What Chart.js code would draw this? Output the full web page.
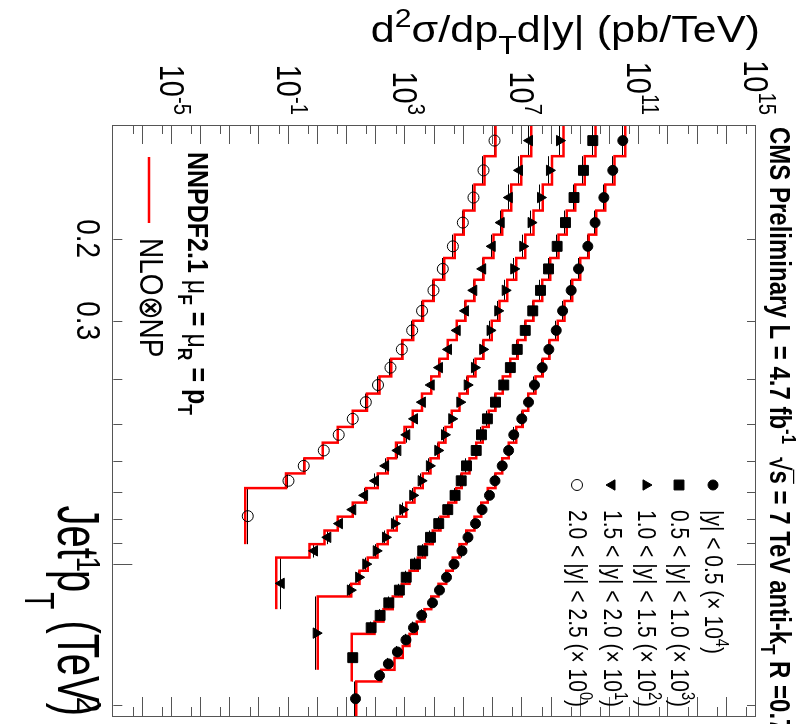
<!DOCTYPE html>
<html lang="en">
<head>
<meta charset="utf-8">
<title>Inclusive jet cross section</title>
<script src="https://cdn.jsdelivr.net/npm/chart.js@4.4.1/dist/chart.umd.min.js"></script>
<style>
  html, body { margin: 0; padding: 0; background: #fff; overflow: hidden; }
  /* the plot is drawn upright and then turned a quarter clockwise */
  #turn { position: absolute; left: 0; top: 0; width: 724px; height: 798px;
          transform-origin: 0 0; transform: translate(798px, 0) rotate(90deg); }
</style>
</head>
<body>
<div id="turn"><canvas id="cv" width="724" height="798"></canvas></div>
<script>
// jet pT bin edges, TeV
const binEdges = [0.114, 0.133, 0.153, 0.174, 0.196, 0.220, 0.245, 0.272, 0.300, 0.330, 0.362,
  0.395, 0.430, 0.468, 0.507, 0.548, 0.592, 0.638, 0.686, 0.737, 0.790, 0.846, 0.905, 0.967,
  1.032, 1.101, 1.172, 1.248, 1.327, 1.410, 1.497, 1.588, 1.684, 1.784];
// upper edge of the last (wide) bin of each rapidity slice
const lastEdges = [2.116, 1.784, 1.684, 1.248, 0.905];

const sliceLabels = ['|y| < 0.5', '0.5 < |y| < 1.0', '1.0 < |y| < 1.5', '1.5 < |y| < 2.0', '2.0 < |y| < 2.5'];
const sliceScale = [4, 3, 2, 1, 0];

// data, pb/TeV (already multiplied by the factor in the legend)
const data0 = [2.75e10, 1.25e10, 6.2e9, 3.1e9, 1.75e9, 8.4e8, 4.7e8, 2.4e8, 1.45e8, 8.1e7, 4.8e7, 2.6e7,
  1.63e7, 9.6e6, 5.1e6, 3.4e6, 2.05e6, 1.16e6, 7.5e5, 4.2e5, 2.5e5, 1.38e5, 8.6e4, 4.6e4, 2.54e4,
  1.46e4, 8.4e3, 3.6e3, 1.88e3, 1.04e3, 5.3e2, 2.6e2, 1.3e2, 19.5];
const data1 = [2.59e9, 1.24e9, 5.9e8, 3.0e8, 1.56e8, 7.9e7, 4.2e7, 2.28e7, 1.26e7, 6.7e6, 3.9e6, 2.32e6,
  1.21e6, 6.4e5, 4.0e5, 2.64e5, 1.23e5, 8.1e4, 5.0e4, 2.81e4, 1.38e4, 7.2e3, 3.9e3, 2.2e3, 1.06e3,
  6.2e2, 2.7e2, 1.36e2, 67, 15.7];
const data2 = [1.88e8, 8.5e7, 4.2e7, 2.0e7, 1.04e7, 5.1e6, 2.6e6, 1.45e6, 7.9e5, 4.4e5, 2.3e5, 1.3e5,
  7.3e4, 3.85e4, 2.17e4, 1.28e4, 6.6e3, 3.45e3, 1.78e3, 8.1e2, 4.2e2, 2.07e2, 1.0e2, 44, 25, 13, 0.88];
const data3 = [1.76e7, 8.0e6, 3.6e6, 1.89e6, 9.3e5, 4.4e5, 2.18e5, 1.13e5, 5.9e4, 2.97e4, 1.46e4, 7.6e3,
  3.8e3, 2.04e3, 1.11e3, 5.5e2, 2.1e2, 94, 40, 15.7, 5.5, 2.2, 0.77, 0.056];
const data4 = [1.12e6, 4.7e5, 2.13e5, 9.2e4, 4.2e4, 1.9e4, 9.1e3, 3.7e3, 1.7e3, 7.5e2, 3.07e2, 1.15e2,
  44, 15.7, 5.2, 1.6, 0.33, 0.099, 0.004];

// NLO x NP prediction, same bins
const theo0 = [3.33e10, 1.43e10, 6.9e9, 3.38e9, 1.89e9, 9.6e8, 5.1e8, 2.78e8, 1.64e8, 8.5e7, 5.0e7, 2.83e7,
  1.6e7, 1.04e7, 6.2e6, 3.44e6, 2.05e6, 1.21e6, 6.6e5, 3.9e5, 2.3e5, 1.2e5, 7.1e4, 4.2e4, 2.48e4,
  1.35e4, 7.6e3, 4.5e3, 2.44e3, 1.37e3, 8.1e2, 4.2e2, 1.48e2, 20.6];
const theo1 = [3.2e9, 1.38e9, 6.5e8, 3.33e8, 1.73e8, 9.0e7, 4.8e7, 2.41e7, 1.28e7, 7.0e6, 3.85e6, 2.15e6,
  1.21e6, 7.1e5, 4.4e5, 2.64e5, 1.55e5, 8.5e4, 5.45e4, 2.97e4, 1.58e4, 8.6e3, 4.7e3, 2.64e3, 1.37e3,
  7.5e2, 3.7e2, 1.77e2, 87, 14.5];
const theo2 = [2.57e8, 1.05e8, 5.0e7, 2.41e7, 1.26e7, 6.2e6, 3.04e6, 1.66e6, 9.0e5, 4.7e5, 2.5e5, 1.36e5,
  7.1e4, 3.85e4, 2.34e4, 1.38e4, 7.2e3, 3.9e3, 2.04e3, 1.06e3, 5.0e2, 2.48e2, 1.1e2, 51, 26.7, 13.9, 1.0];
const theo3 = [2.01e7, 9.2e6, 4.16e6, 2.05e6, 1.03e6, 4.7e5, 2.3e5, 1.13e5, 5.7e4, 2.81e4, 1.46e4, 7.6e3,
  3.7e3, 1.78e3, 9.3e2, 4.8e2, 2.48e2, 1.13e2, 45, 15.7, 4.8, 1.7, 0.52, 0.0375];
const theo4 = [1.21e6, 5.1e5, 2.3e5, 9.9e4, 4.9e4, 2.12e4, 9.3e3, 4.0e3, 1.84e3, 7.9e2, 3.24e2, 1.29e2,
  48, 15.7, 4.8, 1.48, 0.35, 0.082, 0.0033];

// axis ticks
const xLabelTicks = [0.2, 0.3, 1, 2];
const xMinorTicks = [0.2, 0.3, 0.4, 0.5, 0.6, 0.7, 0.8, 0.9, 2];
const xMajorTicks = [1];
const yLabelExps = [-5, -1, 3, 7, 11, 15];

const allData = [data0, data1, data2, data3, data4];
const allTheo = [theo0, theo1, theo2, theo3, theo4];
const markers = [
  { style: 'circle', rot: 0, r: 5, fill: '#000' },
  { style: 'rect', rot: 0, r: 7, fill: '#000' },
  { style: 'triangle', rot: 0, r: 6, fill: '#000' },
  { style: 'triangle', rot: 180, r: 6, fill: '#000' },
  { style: 'circle', rot: 0, r: 5.5, fill: 'rgba(0,0,0,0)' }
];

const FONT = '"Liberation Sans", Arial, Helvetica, sans-serif';
const SY = 1.2; // glyphs in the original are drawn taller than wide

const datasets = [];
const binsOf = [];
allData.forEach((vals, k) => {
  const e = binEdges.slice(0, vals.length).concat([lastEdges[k]]);
  binsOf.push(e);
  const th = allTheo[k];
  const steps = th.map((v, i) => ({ x: e[i], y: v }));
  steps.push({ x: e[e.length - 1], y: th[th.length - 1] });
  datasets.push({
    type: 'line', data: steps, stepped: true, borderColor: '#ff0000', borderWidth: 2.5,
    pointRadius: 0, fill: false, order: 2
  });
  const m = markers[k];
  datasets.push({
    type: 'line', showLine: false,
    data: vals.map((v, i) => ({ x: Math.sqrt(e[i] * e[i + 1]), y: v })),
    pointStyle: m.style, rotation: m.rot, pointRadius: m.r,
    pointBackgroundColor: m.fill, pointBorderColor: '#000', pointBorderWidth: 1, order: 1
  });
});

// text with sup/sub parts: [text, mode(1 sup, -1 sub, 2 overline), bold]
function drawRich(c, parts, x, y, size, align, rot, sy, subDrop) {
  sy = sy || SY;
  subDrop = subDrop || 0.32;
  c.save();
  c.translate(x, y);
  c.scale(1, sy);
  if (rot) c.rotate(-Math.PI / 2);
  let w = 0;
  const segs = parts.map(([t, m, b]) => {
    const s = (m === 1 || m === -1) ? size * 0.7 : size;
    c.font = (b ? 'bold ' : '') + s + 'px ' + FONT;
    const tw = c.measureText(t).width;
    const g = { t, m, f: c.font, x: w, w: tw };
    w += tw;
    return g;
  });
  const x0 = align === 'right' ? -w : align === 'center' ? -w / 2 : 0;
  c.fillStyle = '#000';
  c.strokeStyle = '#000';
  c.lineWidth = 1;
  c.textAlign = 'left';
  c.textBaseline = 'alphabetic';
  for (const g of segs) {
    c.font = g.f;
    const dy = g.m === 1 ? -size * 0.42 : g.m === -1 ? size * subDrop : 0;
    c.fillText(g.t, x0 + g.x, dy);
    if (g.m === 2) {
      c.beginPath();
      c.moveTo(x0 + g.x - 1, -size * 0.82);
      c.lineTo(x0 + g.x + g.w, -size * 0.82);
      c.stroke();
    }
  }
  c.restore();
}

// horizontal bin-width bars under the data, hidden by the red line when they agree
const binBars = {
  id: 'binBars',
  beforeDatasetsDraw(chart) {
    const c = chart.ctx, xs = chart.scales.x, ys = chart.scales.y, a = chart.chartArea;
    c.save();
    c.beginPath();
    c.rect(a.left, a.top, a.right - a.left, a.bottom - a.top);
    c.clip();
    c.strokeStyle = '#000';
    c.lineWidth = 1;
    c.beginPath();
    allData.forEach((vals, k) => {
      const e = binsOf[k];
      vals.forEach((v, i) => {
        const p = Math.round(ys.getPixelForValue(v)) + 0.5;
        c.moveTo(xs.getPixelForValue(e[i]), p);
        c.lineTo(xs.getPixelForValue(e[i + 1]), p);
      });
    });
    c.stroke();
    c.restore();
  }
};

const decor = {
  id: 'decor',
  afterDraw(chart) {
    const c = chart.ctx, a = chart.chartArea;
    const xs = chart.scales.x, ys = chart.scales.y;
    c.save();
    c.strokeStyle = '#555';
    c.lineWidth = 1;
    c.beginPath();
    const tx = (v, len) => {
      const p = Math.round(xs.getPixelForValue(v)) + 0.5;
      c.moveTo(p, a.bottom); c.lineTo(p, a.bottom - len);
      c.moveTo(p, a.top); c.lineTo(p, a.top + len);
    };
    const ty = (v, len) => {
      const p = Math.round(ys.getPixelForValue(v)) + 0.5;
      c.moveTo(a.left, p); c.lineTo(a.left + len, p);
      c.moveTo(a.right, p); c.lineTo(a.right - len, p);
    };
    xMinorTicks.forEach(v => tx(v, 9));
    xMajorTicks.forEach(v => tx(v, 19));
    for (let e = -7; e <= 15; e++) {
      ty(Math.pow(10, e), 19);
      if (e < 15) ty(5 * Math.pow(10, e), 9);
    }
    c.stroke();
    c.strokeRect(Math.round(a.left) + 0.5, Math.round(a.top) + 0.5,
      Math.round(a.right - a.left), Math.round(a.bottom - a.top));
    c.restore();

    // tick labels
    xLabelTicks.forEach(v => {
      drawRich(c, [[String(v)]], xs.getPixelForValue(v), a.bottom + 36, 28, 'center');
    });
    yLabelExps.forEach(e => {
      const p = ys.getPixelForValue(Math.pow(10, e));
      drawRich(c, [['10'], [String(e), 1]], a.left - 10, p + 10 * SY, 29, 'right');
    });

    // axis titles
    drawRich(c, [['d'], ['2', 1], ['σ/dp'], ['T', -1], ['d|y| (pb/TeV)']], 42, a.top - 4, 36, 'right', true);
    drawRich(c, [['Jet p'], ['T', -1], [' (TeV)']], a.right, a.bottom + 55, 40, 'right', false, 1.5, 0.55);

    // header
    drawRich(c, [['CMS Preliminary L = 4.7 fb', 0, true], ['-1', 1, true], ['  √', 0, true], ['s', 2, true],
      [' = 7 TeV anti-k', 0, true], ['T', -1, true], [' R =0.7', 0, true]], a.left + 2, 28, 24, 'left');

    // data legend
    const lx = 485;
    const rows = [85, 119, 152, 186, 221];
    rows.forEach((ry, k) => {
      const m = markers[k];
      c.save();
      c.fillStyle = m.fill;
      c.strokeStyle = '#000';
      Chart.helpers.drawPoint(c, { pointStyle: m.style, rotation: m.rot, radius: m.r, borderWidth: 1 }, lx, ry);
      c.restore();
      drawRich(c, [[sliceLabels[k] + ' (× 10'], [String(sliceScale[k]), 1], [')']], lx + 25, ry + 8, 21, 'left');
    });

    // theory legend
    drawRich(c, [['NNPDF2.1 ', 0, true], ['μ'], ['F', -1, true], [' = ', 0, true], ['μ'], ['R', -1, true],
      [' = p', 0, true], ['T', -1, true]], 152, 610, 25, 'left');
    c.save();
    c.strokeStyle = '#ff0000';
    c.lineWidth = 2.5;
    c.beginPath();
    c.moveTo(157, 649); c.lineTo(223, 649);
    c.stroke();
    c.restore();
    drawRich(c, [['NLO⊗NP']], 238, 658, 28, 'left');
  }
};

new Chart(document.getElementById('cv'), {
  type: 'line',
  data: { datasets },
  options: {
    responsive: false,
    animation: false,
    devicePixelRatio: 1,
    layout: { padding: { top: 42, right: 5, left: 0, bottom: 0 } },
    plugins: { legend: { display: false }, tooltip: { enabled: false } },
    scales: {
      x: {
        type: 'logarithmic', min: 0.114, max: 2.116,
        grid: { display: false }, border: { display: false }, ticks: { display: false },
        afterFit(s) { s.height = 113.3; }
      },
      y: {
        type: 'logarithmic', min: 1e-7, max: 1e15,
        grid: { display: false }, border: { display: false }, ticks: { display: false },
        afterFit(s) { s.width = 125; }
      }
    }
  },
  plugins: [binBars, decor]
});
</script>
</body>
</html>
